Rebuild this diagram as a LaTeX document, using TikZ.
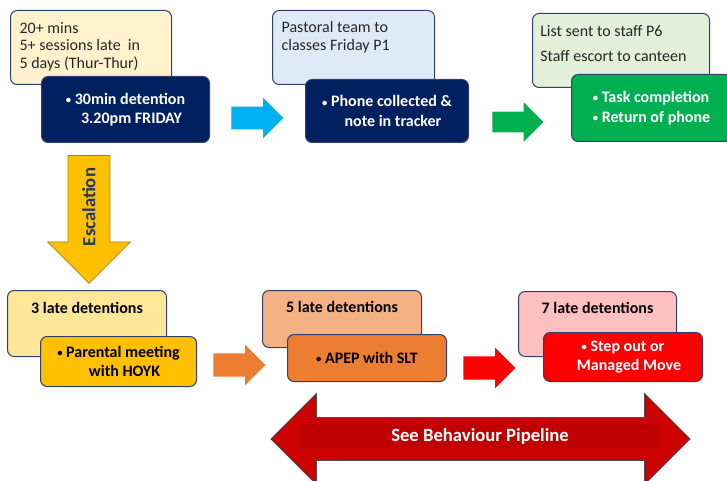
\documentclass[tikz,border=0pt]{standalone}
\usepackage{fontspec}
\setmainfont{Carlito}
\usetikzlibrary{shapes.arrows, positioning}

\definecolor{navy}{HTML}{002060}
\definecolor{cream}{HTML}{FFF2CC}
\definecolor{paleblue}{HTML}{DEEBF7}
\definecolor{palegreen}{HTML}{E2F0D9}
\definecolor{okgreen}{HTML}{00B050}
\definecolor{skyblue}{HTML}{00B0F0}
\definecolor{gold}{HTML}{FFC000}
\definecolor{goldedge}{HTML}{A8841A}
\definecolor{palegold}{HTML}{FFE699}
\definecolor{orange}{HTML}{ED7D31}
\definecolor{paleorange}{HTML}{F4B183}
\definecolor{pink}{HTML}{FFC0C0}
\definecolor{redbox}{HTML}{FF0000}
\definecolor{darkred}{HTML}{CC0000}
\definecolor{band}{HTML}{C00000}
\definecolor{edge}{HTML}{2F3F6E}
\definecolor{ink}{HTML}{262626}
\definecolor{escink}{HTML}{203864}

\newcommand{\bul}{{\fontsize{8}{8}\selectfont\raisebox{0.6pt}{•}}\ }
\newcommand{\hang}{\hspace*{9pt}}

\begin{document}
\begin{tikzpicture}[
    x=0.75pt, y=-0.75pt,
    box/.style={rectangle, draw=edge, line width=0.75pt, rounded corners=5pt, anchor=north west},
    note/.style={box, inner sep=0pt},
    action/.style={box, align=center, font=\fontsize{12}{15.5}\selectfont\bfseries},
    notetext/.style={inner sep=0pt, align=left, text=ink, font=\fontsize{12}{13.2}\selectfont},
    headtext/.style={inner sep=0pt, text=black, font=\fontsize{12}{14}\selectfont\bfseries},
    flow/.style={single arrow, single arrow head extend=#1, inner xsep=0pt, inner ysep=8.25pt, anchor=tail, minimum height=39pt},
]

\useasboundingbox (0,0) rectangle (727,481);

% Row 1: detention
\node[note, fill=cream, minimum width=120.75pt, minimum height=55.5pt] (late) at (10,10) {};
\node[notetext, below right=9pt and 7pt of late.north west] (lateText) {20+ mins\\5+ sessions late\ \ in\\5 days (Thur-Thur)};
\node[action, fill=navy, text=white, minimum width=126pt, minimum height=49.5pt] (detention) at (41,76) {\bul 30min detention\\[-1pt]\hang 3.20pm FRIDAY};

\node[note, fill=paleblue, minimum width=121.5pt, minimum height=55.5pt] (pastoral) at (272,10) {};
\node[notetext, below right=8.5pt and 7pt of pastoral.north west] (pastoralText) {Pastoral team to\\classes Friday P1};
\node[action, fill=navy, text=white, minimum width=122.25pt, minimum height=47.25pt] (phone) at (305,79) {\bul Phone collected \&\\[-1pt]\hang note in tracker};

\node[note, fill=palegreen, minimum width=132.75pt, minimum height=55.5pt] (listsent) at (532,13) {};
\node[notetext, font=\fontsize{12}{18.75}\selectfont, below right=9.5pt and 6pt of listsent.north west] (listsentText) {List sent to staff P6\\Staff escort to canteen};
\node[action, fill=okgreen, text=white, align=left, minimum width=120pt, minimum height=50.25pt] (task) at (571,74) {\bul Task completion\\\bul Return of phone};

% Row 1 arrows
\node[flow=6.75pt, fill=skyblue] (toPhone) at (231,118) {};
\node[flow=7.1pt, fill=okgreen, inner ysep=7.5pt, minimum height=38.25pt] (toTask) at (492,122) {};

% Escalation
\node[flow=15.4pt, rotate=90, shape border rotate=180, fill=gold, draw=goldedge, line width=0.6pt,
      inner ysep=15.4pt, minimum height=96pt] (escalation) at (89,155) {};
\node[rotate=90, inner sep=0pt, text=escink, font=\fontsize{14}{14}\selectfont\bfseries] (escalationText) at (89,207) {Escalation};

% Row 2: late detentions
\node[note, fill=palegold, minimum width=119.25pt, minimum height=49.5pt] (three) at (7,290) {};
\node[headtext, below=9pt of three.north] (threeText) {3 late detentions};
\node[action, fill=gold, text=black, minimum width=117pt, minimum height=37.5pt] (parental) at (40,336) {\bul Parental meeting\\[-1pt]\hang with HOYK};

\node[note, fill=paleorange, minimum width=119.25pt, minimum height=42.75pt] (five) at (262,290) {};
\node[headtext, below=8.5pt of five.north] (fiveText) {5 late detentions};
\node[action, fill=orange, text=black, minimum width=119.25pt, minimum height=35.25pt] (apep) at (287,334) {\bul APEP with SLT};

\node[note, fill=pink, minimum width=118.5pt, minimum height=48.75pt] (seven) at (518,291) {};
\node[headtext, below=8.5pt of seven.north] (sevenText) {7 late detentions};
\node[action, fill=redbox, text=white, minimum width=119.25pt, minimum height=36.75pt] (stepout) at (543,332) {\bul Step out or\\[-1pt]\hang Managed Move};

% Row 2 arrows
\node[flow=6.4pt, fill=orange, inner ysep=8.6pt] (toApep) at (213,365) {};
\node[flow=6.4pt, fill=redbox, inner ysep=8.6pt] (toStepout) at (463,368) {};

% Pipeline
\node[double arrow, double arrow head extend=18pt, inner xsep=0pt, inner ysep=15.75pt, fill=darkred, draw=black!70, line width=0.6pt,
      minimum height=314.25pt] (pipeline) at (480.5,439) {};
\node[fill=band, inner sep=0pt, minimum width=270pt, minimum height=18.75pt, text=white,
      font=\fontsize{14}{14}\selectfont\bfseries] (pipelineText) at (480,436) {See Behaviour Pipeline};

\end{tikzpicture}
\end{document}
